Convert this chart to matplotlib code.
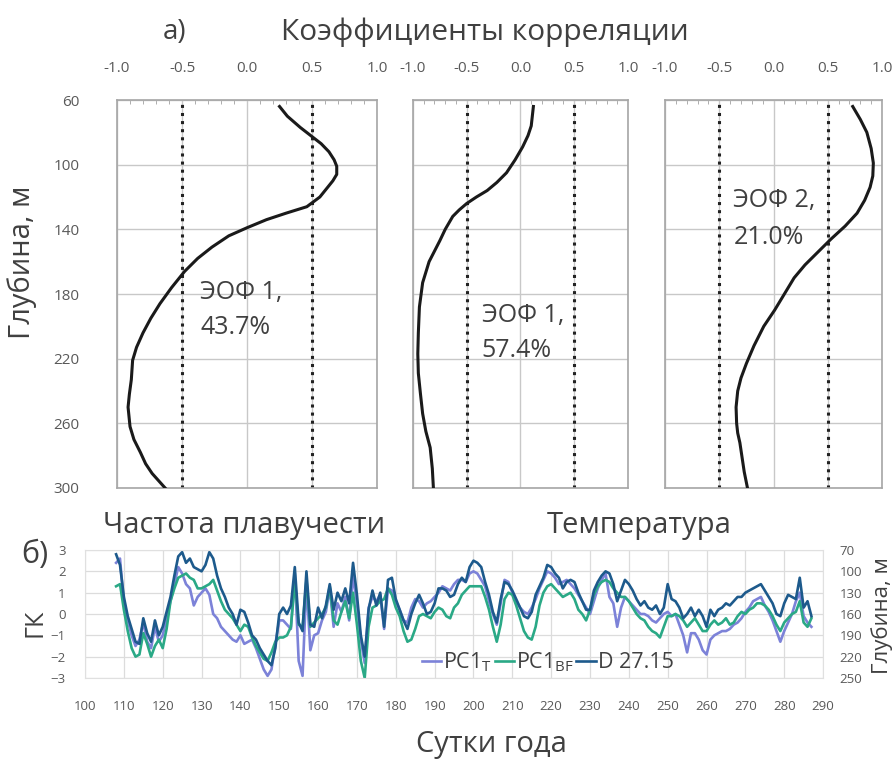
import matplotlib
matplotlib.use('Agg')
import matplotlib.pyplot as plt
from matplotlib.ticker import MultipleLocator, FormatStrFormatter

plt.rcParams['font.family'] = ['Open Sans', 'DejaVu Sans']

# --- profiles of correlation coefficients (depth, m) ---
depth_n2 = [64, 70, 77, 82, 87, 92, 97, 101, 106, 110, 114, 120, 126, 130, 134, 139,
            144, 151, 158, 166, 176, 186, 195, 204, 213, 221, 233, 242, 250, 262,
            270, 278, 285, 291, 300]
corr_n2 = [0.25, 0.31, 0.41, 0.49, 0.57, 0.63, 0.67, 0.69, 0.69, 0.66, 0.62, 0.56, 0.46,
           0.30, 0.15, 0.0, -0.14, -0.27, -0.38, -0.48, -0.58, -0.67, -0.74, -0.80,
           -0.85, -0.88, -0.89, -0.905, -0.915, -0.90, -0.87, -0.82, -0.78, -0.73, -0.63]

depth_t1 = [64, 70, 76, 82, 89, 97, 105, 111, 116, 120, 124, 128, 132, 140, 147, 160,
            173, 188, 204, 217, 229, 242, 254, 265, 275, 288, 300]
corr_t1 = [0.12, 0.11, 0.10, 0.07, 0.02, -0.05, -0.13, -0.22, -0.31, -0.41, -0.50,
           -0.57, -0.63, -0.70, -0.75, -0.85, -0.91, -0.94, -0.95, -0.955, -0.95,
           -0.93, -0.91, -0.88, -0.84, -0.82, -0.81]

depth_t2 = [64, 72, 80, 90, 99, 107, 114, 122, 130, 138, 146, 154, 162, 170, 180, 190,
            200, 212, 223, 232, 240, 250, 260, 266, 272, 281, 290, 300]
corr_t2 = [0.73, 0.80, 0.86, 0.90, 0.92, 0.915, 0.89, 0.84, 0.77, 0.66, 0.53, 0.41,
           0.29, 0.19, 0.10, 0.01, -0.09, -0.18, -0.25, -0.30, -0.33, -0.345, -0.34,
           -0.33, -0.31, -0.29, -0.27, -0.24]

depth_ticks = [60, 100, 140, 180, 220, 260, 300]
corr_ticks = [-1.0, -0.5, 0.0, 0.5, 1.0]

panel_notes = [('ЭОФ 1,', '43.7%'), ('ЭОФ 1,', '57.4%'), ('ЭОФ 2,', '21.0%')]
note_pos = [(-0.36, 179, 201), (-0.36, 193, 215), (-0.37, 122, 145)]

# --- principal components, days of year ---
days = list(range(108, 288))

pc1_d = [2.8, 2.3, 0.8, -0.1, -0.7, -1.3, -1.4, -0.2, -0.9, -1.3,
         -0.3, -1.0, -0.6, 0.1, 0.8, 1.8, 2.7, 2.9, 2.4, 2.6,
         2.2, 2.1, 2.0, 2.3, 2.9, 2.6, 1.8, 1.2, 0.8, 0.3,
         0.0, -0.5, 0.2, 0.1, -0.4, -1.0, -1.2, -1.6, -1.9, -2.2,
         -2.4, -1.6, 0.0, 0.3, 0.0, 0.4, 2.2, -0.4, -0.8, 2.0,
         -0.5, -0.6, 0.3, -0.2, 0.4, 1.4, 0.2, 1.0, 0.6, 1.2,
         0.5, 2.4, 0.9, -1.0, -2.0, 0.2, 1.1, 0.4, 1.0, -0.6,
         1.6, 1.7, 0.7, 0.2, -0.3, -0.7, 0.0, 0.5, 0.9, 0.5,
         0.0, 0.1, 0.5, 1.2, 1.2, 1.1, 0.8, 0.9, 1.4, 1.7,
         1.5, 2.2, 2.5, 2.4, 2.2, 1.5, 0.9, 0.1, -0.4, 0.7,
         1.5, 1.4, 1.1, 0.7, 0.3, -0.1, -0.2, 0.1, 0.9, 1.3,
         1.7, 2.3, 2.2, 1.9, 1.7, 1.2, 1.5, 1.6, 1.5, 1.0,
         0.6, 0.2, 0.2, 1.1, 1.5, 1.8, 2.0, 1.9, 1.4, 0.6,
         1.1, 1.6, 1.4, 1.1, 0.7, 0.4, 0.6, 0.3, 0.2, 0.4,
         0.0, 0.3, 1.4, 0.7, 0.6, 0.3, -0.2, 0.0, 0.3, -0.1,
         0.2, -0.1, -0.6, 0.2, -0.1, 0.2, 0.3, 0.5, 0.4, 0.6,
         0.8, 0.8, 1.0, 1.1, 1.2, 1.3, 1.4, 1.1, 0.8, 0.5,
         0.0, -0.1, 0.5, 0.9, 0.8, 0.7, 1.7, 0.3, 0.6, -0.1]

pc1_bf = [1.3, 1.4, 0.2, -0.8, -1.6, -2.0, -1.9, -0.9, -1.4, -2.0,
          -1.5, -1.2, -1.6, -0.7, 0.6, 1.2, 1.7, 1.8, 1.9, 1.7,
          1.6, 1.2, 1.2, 1.3, 1.4, 1.6, 1.1, 0.6, 0.2, 0.0,
          -0.2, -0.5, -0.8, -0.5, -0.6, -1.1, -1.5, -1.8, -2.1, -2.2,
          -1.8, -1.3, -1.1, -1.1, -1.0, -0.6, 1.5, -0.5, -0.6, 1.6,
          -0.6, -0.4, -0.2, 0.0, 0.3, 1.3, -0.3, -0.5, 0.1, 0.6,
          -0.2, 1.0, -0.5, -2.2, -3.0, -0.6, 0.3, 0.4, 0.6, 0.7,
          1.2, 0.9, 0.3, -0.1, -0.8, -1.3, -1.2, -0.7, -0.1, 0.0,
          -0.1, -0.2, 0.1, 0.3, 0.2, -0.1, -0.2, 0.3, 0.5, 0.9,
          1.1, 1.3, 1.3, 1.3, 1.3, 0.8, 0.2, -0.6, -1.3, -0.5,
          0.7, 1.0, 0.9, 0.4, -0.2, -0.8, -1.1, -1.2, -0.6, 0.4,
          1.0, 1.3, 1.4, 1.2, 1.0, 0.8, 0.9, 1.0, 0.7, 0.2,
          0.0, -0.3, 0.2, 0.9, 1.3, 1.5, 1.6, 1.5, 1.2, 1.0,
          0.8, 0.8, 0.6, 0.3, 0.0, -0.2, -0.3, -0.6, -0.8, -0.9,
          -1.1, -0.6, -0.1, -0.1, 0.0, -0.1, -0.3, -0.6, -0.4, -0.2,
          -0.5, -0.8, -0.8, -0.5, -0.3, -0.5, -0.4, -0.2, -0.5, -0.4,
          -0.1, 0.1, 0.0, 0.2, 0.3, 0.5, 0.5, 0.4, 0.2, -0.1,
          -0.5, -0.8, -0.4, -0.2, 0.0, 0.1, 0.6, -0.4, -0.6, -0.2]

pc1_t = [2.4, 2.6, 0.5, -0.3, -1.0, -1.5, -1.2, -0.4, -1.3, -1.6,
         -0.6, -1.3, -1.0, -0.2, 0.6, 1.4, 2.2, 1.9, 1.4, 1.2,
         0.4, 0.8, 1.0, 1.2, 0.9, 0.0, -0.2, -0.6, -0.8, -1.0,
         -1.2, -1.3, -1.0, -1.4, -1.3, -1.2, -1.6, -2.1, -2.6, -2.9,
         -2.6, -1.4, -0.3, -0.3, -0.5, -0.7, 1.9, -2.2, -2.9, 1.5,
         -1.7, -1.0, -0.9, -0.3, 0.1, 1.2, -0.6, 0.5, 0.1, 0.8,
         -0.3, 1.8, 0.5, -1.2, -2.3, 0.3, 0.8, 0.6, 0.9, -0.7,
         1.2, 1.1, 0.6, 0.2, -0.3, -0.4, 0.3, 0.7, 0.6, 0.3,
         0.5, 0.6, 0.8, 1.0, 1.3, 1.2, 1.1, 1.4, 1.6, 1.6,
         1.5, 1.9, 2.0, 1.9, 1.6, 1.3, 0.6, 0.0, -0.5, 0.5,
         1.6, 1.5, 1.0, 0.6, 0.3, 0.1, 0.0, 0.3, 0.7, 1.2,
         1.6, 2.0, 1.9, 1.7, 1.4, 1.5, 1.6, 1.4, 1.2, 0.9,
         0.6, 0.3, 0.0, 0.6, 1.2, 1.6, 1.9, 0.8, 0.5, -0.6,
         0.3, 0.8, 0.6, 0.4, 0.2, 0.0, 0.0, -0.1, -0.3, -0.4,
         -0.2, 0.0, 0.1, -0.1, 0.0, -0.5, -1.0, -1.8, -0.9, -0.9,
         -1.2, -1.7, -1.9, -1.2, -1.0, -0.9, -0.8, -0.8, -0.7, -0.5,
         -0.4, -0.2, 0.1, 0.3, 0.6, 0.7, 0.8, 0.4, 0.1, -0.3,
         -0.8, -1.3, -0.8, -0.4, 0.0, 0.6, 1.0, -0.1, -0.4, -0.6]

day_ticks = list(range(100, 300, 10))
pc_ticks = [-3, -2, -1, 0, 1, 2, 3]
right_depth_ticks = [70, 100, 130, 160, 190, 220, 250]

series_labels = ['PC1$_\\mathregular{T}$', 'PC1$_\\mathregular{BF}$', 'D 27.15']
series_colors = ['#7c82d8', '#2aa986', '#1d5a8c']

tick_grey = '#595959'
text_grey = '#404040'

fig = plt.figure(figsize=(8.96, 7.6), dpi=100)

# top panels
panel_boxes = [
    [0.1306, 0.3579, 0.2902, 0.5105],
    [0.4609, 0.3579, 0.2400, 0.5105],
    [0.7422, 0.3579, 0.2422, 0.5105],
]
profiles = [(corr_n2, depth_n2), (corr_t1, depth_t1), (corr_t2, depth_t2)]

for i, box in enumerate(panel_boxes):
    ax = fig.add_axes(box)
    corr, depth = profiles[i]

    ax.plot(corr, depth, color='#1a1a1a', linewidth=2.2, zorder=3)
    ax.axvline(-0.5, color='#222222', linestyle=':', linewidth=2.2, zorder=2)
    ax.axvline(0.5, color='#222222', linestyle=':', linewidth=2.2, zorder=2)

    ax.set_xlim(-1, 1)
    ax.set_ylim(300, 60)
    ax.set_xticks(corr_ticks)
    ax.set_yticks(depth_ticks)
    ax.xaxis.set_minor_locator(MultipleLocator(0.1))
    ax.xaxis.tick_top()
    ax.xaxis.set_major_formatter(FormatStrFormatter('%.1f'))
    ax.tick_params(axis='x', which='major', length=0, pad=17,
                   labelsize=11, labelcolor=tick_grey)
    ax.tick_params(axis='x', which='minor', direction='in', length=3,
                   color='#a0a0a0', top=True, bottom=False)
    ax.tick_params(axis='y', length=0, pad=27, labelsize=11,
                   labelcolor=tick_grey, labelleft=(i == 0))

    ax.grid(True, which='major', color='#c8c8c8', linewidth=1.0)
    for sp in ax.spines.values():
        sp.set_color('#a6a6a6')
        sp.set_linewidth(1.2)

    line1, line2 = panel_notes[i]
    nx, ny1, ny2 = note_pos[i]
    ax.text(nx, ny1, line1, fontsize=18, color=text_grey, va='center', ha='left')
    ax.text(nx, ny2, line2, fontsize=18, color=text_grey, va='center', ha='left')

# bottom panel
axb = fig.add_axes([0.0949, 0.1079, 0.8237, 0.1684])
for vals, lab, col in zip([pc1_t, pc1_bf, pc1_d], series_labels, series_colors):
    axb.plot(days, vals, color=col, linewidth=1.9, label=lab)

axb.set_xlim(100, 290)
axb.set_ylim(-3, 3)
axb.set_xticks(day_ticks)
axb.set_yticks(pc_ticks)
axb.tick_params(axis='x', length=0, pad=16, labelsize=9.5, labelcolor=tick_grey)
axb.tick_params(axis='y', length=0, pad=14, labelsize=9.5, labelcolor=tick_grey)
axb.grid(True, color='#dcdcdc', linewidth=0.9)
for sp in axb.spines.values():
    sp.set_color('#e0e0e0')

axr = axb.twinx()
axr.set_ylim(250, 70)
axr.set_yticks(right_depth_ticks)
axr.tick_params(axis='y', length=0, pad=12, labelsize=9.5, labelcolor=tick_grey)
for sp in axr.spines.values():
    sp.set_visible(False)

leg = axb.legend(loc='center', bbox_to_anchor=(0.627, 0.125), ncol=3, frameon=False,
                 fontsize=15.5, handlelength=0.9, handletextpad=0.1,
                 columnspacing=0.1, borderpad=0)
for t in leg.get_texts():
    t.set_color(text_grey)

# labels
fig.text(0.195, 0.958, 'а)', fontsize=20, color=text_grey, ha='center', va='center')
fig.text(0.541, 0.958, 'Коэффициенты корреляции', fontsize=21.5, color=text_grey,
         ha='center', va='center')
fig.text(0.025, 0.655, 'Глубина, м', fontsize=21, color=text_grey, rotation=90,
         ha='center', va='center')
fig.text(0.272, 0.309, 'Частота плавучести', fontsize=21, color=text_grey,
         ha='center', va='center')
fig.text(0.713, 0.309, 'Температура', fontsize=21, color=text_grey,
         ha='center', va='center')
fig.text(0.039, 0.270, 'б)', fontsize=22, color=text_grey, ha='center', va='center')
fig.text(0.039, 0.180, 'ГК', fontsize=18, color=text_grey, rotation=90,
         ha='center', va='center')
fig.text(0.985, 0.190, 'Глубина, м', fontsize=16, color=text_grey, rotation=90,
         ha='center', va='center')
fig.text(0.549, 0.020, 'Сутки года', fontsize=21, color=text_grey,
         ha='center', va='center')

fig.savefig('out.png', dpi=100)
